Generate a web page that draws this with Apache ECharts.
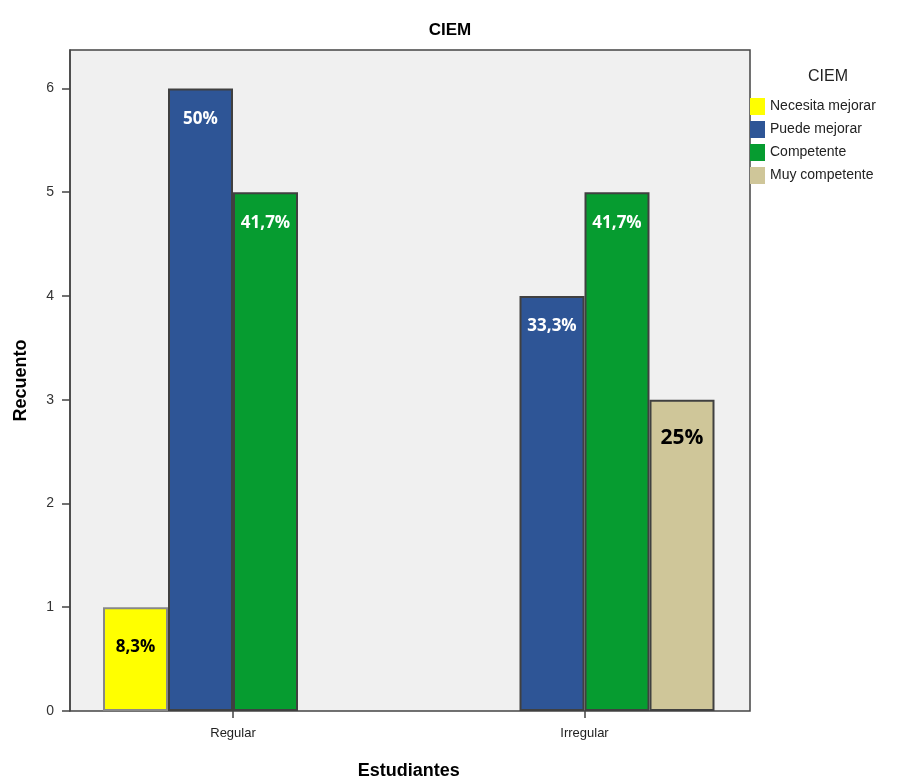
<!DOCTYPE html>
<html>
<head>
<meta charset="utf-8">
<script src="https://cdn.jsdelivr.net/npm/echarts@6/dist/echarts.min.js"></script>
<style>html,body{margin:0;padding:0;background:#fff}#c{width:907px;height:781px}</style>
</head>
<body>
<div id="c"></div>
<script>
const categories = ['Regular', 'Irregular'];
const seriesNames = ['Necesita mejorar', 'Puede mejorar', 'Competente', 'Muy competente'];
const necesitaMejorar = [1, null];
const puedeMejorar = [6, 4];
const competente = [5, 5];
const muyCompetente = [null, 3];
const necesitaLabels = ['8,3%', ''];
const puedeLabels = ['50%', '33,3%'];
const competenteLabels = ['41,7%', '41,7%'];
const muyLabels = ['', '25%'];
const yTicks = [0, 1, 2, 3, 4, 5, 6];

const chart = echarts.init(document.getElementById('c'));
const YMAX = 6.37;
function mk(name, values, labels, color, border, lblColor, lblSize, lblDist) {
  return {
    name: name, type: 'bar', xAxisIndex: 1, yAxisIndex: 1,
    barWidth: 65, barGap: '0%',
    data: values.map((v, i) => ({
      value: v == null ? '-' : v,
      label: { formatter: labels[i] }
    })),
    itemStyle: { color: color, borderColor: border, borderWidth: 2 },
    label: {
      show: true, position: 'insideTop', distance: lblDist,
      color: lblColor, fontSize: lblSize, fontWeight: 'bold',
      fontFamily: 'Open Sans'
    }
  };
}
chart.setOption({
  animation: false,
  backgroundColor: '#ffffff',
  title: {
    text: 'CIEM', left: 445, top: 17, textAlign: 'center',
    textStyle: { fontFamily: 'Liberation Sans', fontWeight: 'bold', fontSize: 17, color: '#000' }
  },
  legend: {
    data: seriesNames, orient: 'vertical', left: 750, top: 98, padding: 0,
    itemWidth: 15, itemHeight: 17, itemGap: 6,
    icon: 'rect',
    itemStyle: { borderWidth: 0 },
    textStyle: { fontFamily: 'Liberation Sans', fontSize: 14, color: '#222' }
  },
  graphic: [{
    type: 'text', left: 808, top: 69,
    style: { text: 'CIEM', font: '16px "Liberation Sans"', fill: '#222' }
  }],
  grid: [
    { left: 70, right: 157, top: 50, bottom: 70, outerBoundsMode: 'none', containLabel: false, show: true, backgroundColor: '#f0f0f0', borderColor: '#444', borderWidth: 1.5 },
    { left: 57.25, right: 146.75, top: 50, bottom: 70, outerBoundsMode: 'none', containLabel: false }
  ],
  xAxis: [
    { gridIndex: 0, type: 'value', show: false, min: 0, max: 1 },
    {
      gridIndex: 1, type: 'category', data: categories,
      name: 'Estudiantes', nameLocation: 'middle', nameGap: 51,
      nameTextStyle: { fontFamily: 'Liberation Sans', fontWeight: 'bold', fontSize: 18, color: '#000' },
      axisLine: { show: false },
      axisTick: { show: true, alignWithLabel: true, length: 7, lineStyle: { color: '#444', width: 1.5 } },
      axisLabel: { fontFamily: 'Liberation Sans', fontSize: 13, color: '#222', margin: 16 }
    }
  ],
  yAxis: [
    {
      gridIndex: 0, type: 'value', min: 0, max: YMAX, interval: 1,
      name: 'Recuento', nameLocation: 'middle', nameGap: 40,
      nameTextStyle: { fontFamily: 'Liberation Sans', fontWeight: 'bold', fontSize: 18, color: '#000' },
      axisLine: { show: true, lineStyle: { color: '#444', width: 1.5 } },
      axisTick: { show: true, length: 8, lineStyle: { color: '#444', width: 1.5 } },
      axisLabel: { showMaxLabel: false, fontFamily: 'Liberation Sans', fontSize: 14, color: '#333', margin: 16,
        formatter: v => (yTicks.indexOf(v) >= 0 ? String(v) : '') },
      splitLine: { show: false }
    },
    { gridIndex: 1, type: 'value', min: 0, max: YMAX, show: false, splitLine: { show: false } }
  ],
  series: [
    mk(seriesNames[0], necesitaMejorar, necesitaLabels, '#ffff00', '#888888', '#000', 17, 31),
    mk(seriesNames[1], puedeMejorar, puedeLabels, '#2e5596', '#404040', '#fff', 17, 22),
    mk(seriesNames[2], competente, competenteLabels, '#069c30', '#404040', '#fff', 17, 22),
    mk(seriesNames[3], muyCompetente, muyLabels, '#cfc699', '#404040', '#000', 21, 28)
  ]
});
</script>
</body>
</html>
